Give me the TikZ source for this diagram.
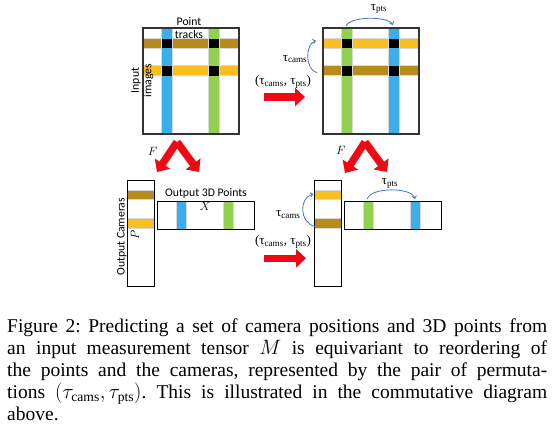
\documentclass[tikz,border=0pt]{standalone}
\usepackage{fontspec}
\setmainfont{Liberation Serif}
\setsansfont{Carlito}
\usetikzlibrary{arrows.meta}
\definecolor{StripeBlue}{RGB}{59,174,235}
\definecolor{StripeGreen}{RGB}{146,208,80}
\definecolor{StripeGold}{RGB}{250,190,30}
\definecolor{StripeOlive}{RGB}{184,140,26}
\definecolor{ArrowRed}{RGB}{240,8,20}
\definecolor{PermBlue}{RGB}{68,114,196}
\tikzset{
  stripe/.style={draw=black!15,line width=0.5pt},
  frame/.style={draw=black!80,line width=1.3pt},
  thinframe/.style={draw=black,line width=1pt},
  redarrow/.style={draw=ArrowRed,line width=7.5pt,-{Triangle[length=10pt,width=18pt]}},
  permarc/.style={draw=PermBlue,line width=0.8pt,-{Straight Barb[length=2.5pt,width=4.5pt]}},
  tag/.style={font=\sffamily\fontsize{11.7}{12.7}\selectfont,inner sep=0pt,align=center},
  perm/.style={font=\fontsize{13}{15}\selectfont,inner sep=0pt},
  sym/.style={font=\fontsize{12}{14}\selectfont,inner sep=0pt},
}
\begin{document}
\frenchspacing
\begin{tikzpicture}[x=1pt,y=-1pt]
	\useasboundingbox (0,0) rectangle (557,439);
	% measurement tensors, before and after the permutation
	\foreach \Shift/\ColA/\ColB/\RowA/\RowB in {0/StripeBlue/StripeGreen/StripeOlive/StripeGold,180/StripeGreen/StripeBlue/StripeGold/StripeOlive}{
		\begin{scope}[xshift=\Shift pt]
			\path[fill=\RowA,stripe] (143,38.7) rectangle (239,48);
			\path[fill=\RowB,stripe] (143,65.7) rectangle (239,75.7);
			\path[fill=\ColA,stripe] (161.7,28) rectangle (172.3,134);
			\path[fill=\ColB,stripe] (208.7,28) rectangle (219,134);
			\foreach \X in {161.7,208.7}{\foreach \Y/\Yb in {38.7/48,65.7/75.7}{\fill[black] (\X,\Y) rectangle (\X+10.6,\Yb);}}
			\draw[frame] (143,28) rectangle (239,134);
		\end{scope}
	}
	% output cameras and 3D points
	\foreach \Shift/\ColA/\ColB/\RowA/\RowB in {0/StripeBlue/StripeGreen/StripeOlive/StripeGold,187/StripeGreen/StripeBlue/StripeGold/StripeOlive}{
		\begin{scope}[xshift=\Shift pt]
			\path[fill=\RowA,stripe] (127.3,190.7) rectangle (154.3,199.3);
			\path[fill=\RowB,stripe] (127.3,218.3) rectangle (154.3,228.3);
			\draw[thinframe] (127.3,180) rectangle (154.3,286.7);
			\path[fill=\ColA,stripe] (176.7,201.7) rectangle (186.7,229.7);
			\path[fill=\ColB,stripe] (223.3,201.7) rectangle (233.7,229.7);
			\draw[thinframe] (157.7,201.7) rectangle (254,229.7);
		\end{scope}
	}
	% labels
	\node[tag] (TrackLabel) at (189,28) {Point\\tracks};
	\node[tag,rotate=90] (ImageLabel) at (142.4,80.5) {Input\\images};
	\node[tag,rotate=90] (CamLabel) at (121.7,236.7) {Output Cameras};
	\node[tag] (PtsLabel) at (206,193.3) {Output 3D Points};
	\node[sym] (XLabel) at (205.3,206) {$X$};
	\node[sym,rotate=90] (PLabel) at (135,235) {$P$};
	\node[sym] (LeftFLabel) at (152.7,151) {$F$};
	\node[sym] (RightFLabel) at (341,150) {$F$};
	\node[perm] (TopPair) at (283,82) {(τ\textsubscript{cams}, τ\textsubscript{pts})};
	\node[perm] (BotPair) at (283,242) {(τ\textsubscript{cams}, τ\textsubscript{pts})};
	\node[perm] (TopCams) at (295,59) {τ\textsubscript{cams}};
	\node[perm] (TopPts) at (379,9) {τ\textsubscript{pts}};
	\node[perm] (BotCams) at (288.3,214.3) {τ\textsubscript{cams}};
	\node[perm] (BotPts) at (390,183.3) {τ\textsubscript{pts}};
	% ends of the connectors
	\coordinate (TopTail) at (264,97);
	\coordinate (TopHead) at (305,97);
	\coordinate (BotTail) at (264,258.3);
	\coordinate (BotHead) at (306,258.3);
	\coordinate (LeftPeak) at (177,142);
	\coordinate (LeftCam) at (157,172);
	\coordinate (LeftPts) at (199,172);
	\coordinate (RightPeak) at (365,142);
	\coordinate (RightCam) at (345,173);
	\coordinate (RightPts) at (387,172);
	\draw[redarrow] (TopTail) -- (TopHead);
	\draw[redarrow] (BotTail) -- (BotHead);
	\foreach \Peak/\Tip in {LeftPeak/LeftCam,LeftPeak/LeftPts,RightPeak/RightCam,RightPeak/RightPts}{\draw[redarrow] (\Peak) -- (\Tip);}
	% permutation arcs
	\coordinate (TopPtsA) at (346,26);
	\coordinate (TopPtsB) at (393,25);
	\coordinate (TopCamsA) at (317,72.7);
	\coordinate (TopCamsB) at (316,40.7);
	\coordinate (BotPtsA) at (367.3,199);
	\coordinate (BotPtsB) at (415,199);
	\coordinate (BotCamsA) at (315,226.7);
	\coordinate (BotCamsB) at (313.3,194);
	\draw[permarc] (TopPtsA) .. controls (350,16) and (388,16) .. (TopPtsB);
	\draw[permarc] (TopCamsA) .. controls (305,70) and (305,44) .. (TopCamsB);
	\draw[permarc] (BotPtsA) .. controls (370,187) and (412,187) .. (BotPtsB);
	\draw[permarc] (BotCamsA) .. controls (299,222) and (299,198) .. (BotCamsB);
	% caption
	\node[anchor=north west,inner sep=0pt,text width=540pt,align=justify,font=\fontsize{19.5}{21.8}\selectfont] (Caption) at (7,319) {Figure 2: Predicting a set of camera positions and 3D points from\linebreak an input measurement tensor $M$ is equivariant to reordering of\linebreak the points and the cameras, represented by the pair of permuta-\linebreak tions $(\tau_{\mathrm{cams}},\tau_{\mathrm{pts}})$. This is illustrated in the commutative diagram\linebreak above.};
\end{tikzpicture}
\end{document}
